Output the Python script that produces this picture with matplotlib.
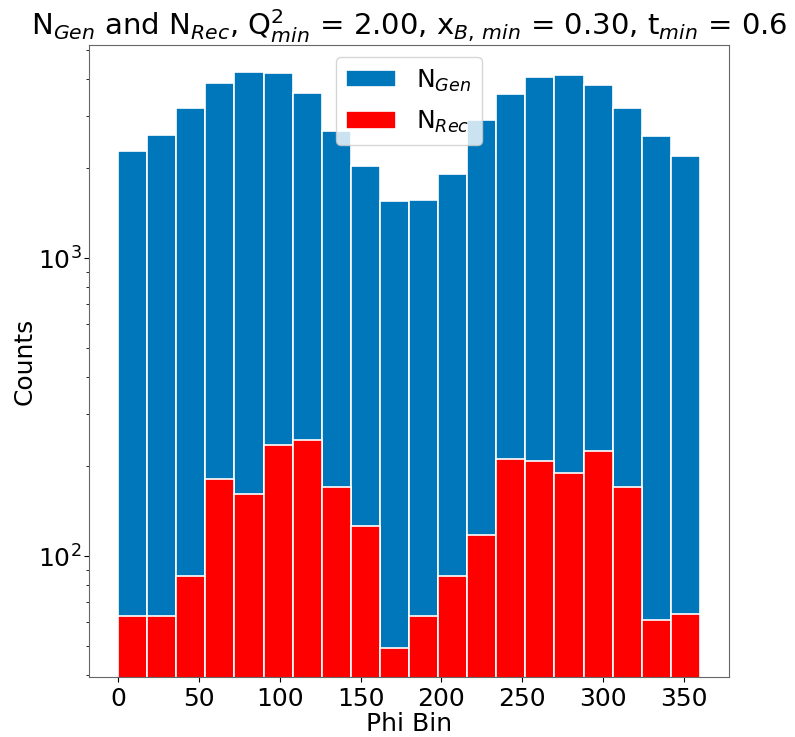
import numpy as np
from matplotlib import pyplot as plt

# phi bin edges (deg) and counts per bin
phi_bins = np.arange(0, 360, 18)
n_gen = [2286, 2581, 3194, 3857, 4200, 4167, 3578, 2675, 2036, 1557,
         1569, 1909, 2904, 3542, 4040, 4103, 3816, 3194, 2567, 2199]
n_rec = [63, 63, 86, 181, 161, 236, 245, 170, 126, 49,
         63, 86, 118, 212, 208, 190, 225, 170, 61, 64]

title_str = (r"N$_{Gen}$ and N$_{Rec}$, Q$^2_{min}$ = 2.00, "
             r"x$_{B,\,min}$ = 0.30, t$_{min}$ = 0.6")

fig = plt.figure(figsize=(7.95, 7.37), dpi=100)
ax = fig.add_axes([0.112, 0.0814, 0.805, 0.8576])

ax.bar(phi_bins, n_gen, width=18, align='edge', color='#0177bb',
       edgecolor='white', linewidth=1.2, label=r"N$_{Gen}$")
ax.bar(phi_bins, n_rec, width=18, align='edge', color='red',
       edgecolor='white', linewidth=1.2, label=r"N$_{Rec}$")

ax.set_yscale('log')
ax.set_xlim(-18, 378)
ax.set_ylim(39.3, 5190)
ax.set_xticks(np.arange(0, 351, 50))

ax.set_title(title_str, fontsize=21)
ax.set_xlabel("Phi Bin", fontsize=18, labelpad=1)
ax.set_ylabel("Counts", fontsize=18, labelpad=1)
ax.tick_params(axis='both', which='major', labelsize=18)
ax.tick_params(axis='y', which='major', pad=2)
for sp in ax.spines.values():
    sp.set_color('#666666')
ax.legend(loc='upper center', fontsize=18, labelspacing=0.6)

plt.savefig("out.png", dpi=100)
